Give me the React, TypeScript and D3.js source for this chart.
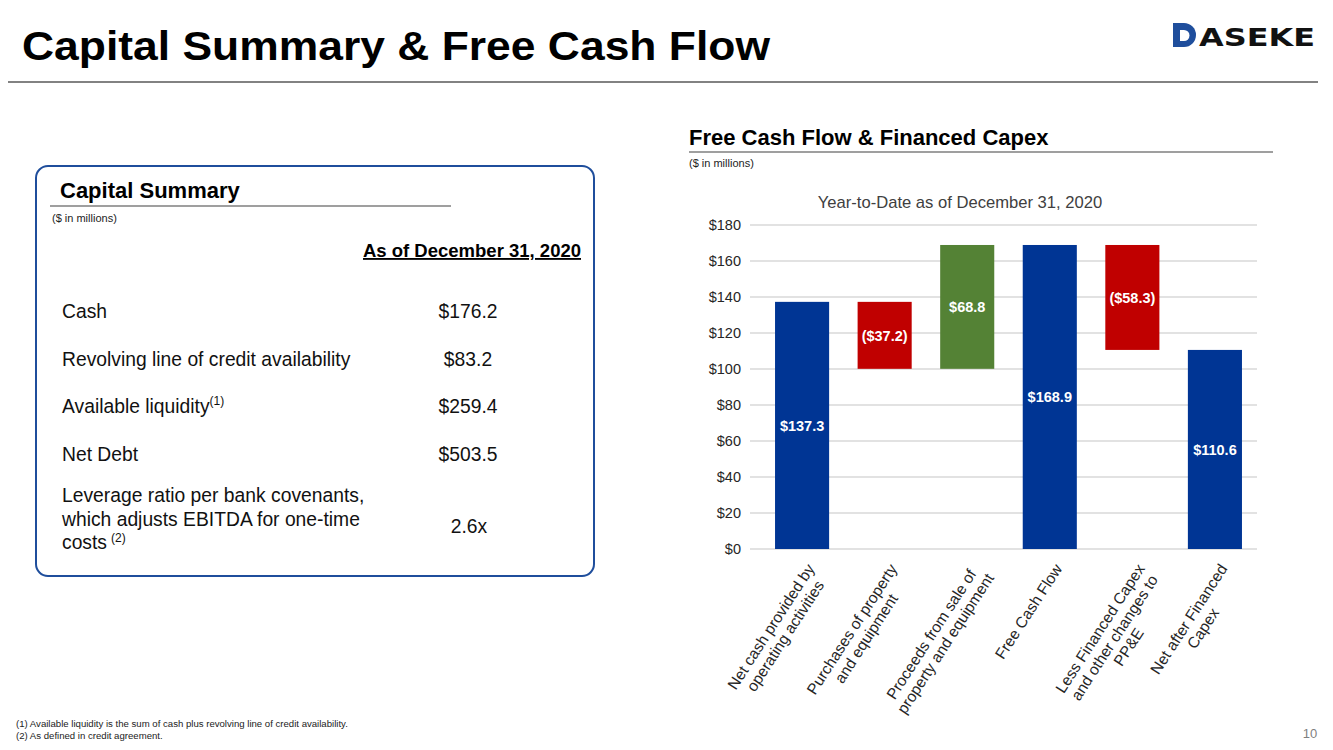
import { useEffect, useRef } from "react";
import * as d3 from "d3";

// waterfall chart data
const categories = [
  ["Net cash provided by", "operating activities"],
  ["Purchases of property", "and equipment"],
  ["Proceeds from sale of", "property and equipment"],
  ["Free Cash Flow"],
  ["Less Financed Capex", "and other changes to", "PP&E"],
  ["Net after Financed", "Capex"],
];
const stepValues = [137.3, -37.2, 68.8, 168.9, -58.3, 110.6];
const isTotal = [true, false, false, true, false, true];
const barLabels = ["$137.3", "($37.2)", "$68.8", "$168.9", "($58.3)", "$110.6"];
const yTicks = [0, 20, 40, 60, 80, 100, 120, 140, 160, 180];

// capital summary table
const summaryLabels = [
  ["Cash"],
  ["Revolving line of credit availability"],
  ["Available liquidity"],
  ["Net Debt"],
  ["Leverage ratio per bank covenants,", "which adjusts EBITDA for one-time", "costs"],
];
const summaryValues = ["$176.2", "$83.2", "$259.4", "$503.5", "2.6x"];
const summaryNotes = ["", "", "(1)", "", "(2)"];

const FONT = "'Liberation Sans', Arial, Helvetica, sans-serif";

function WaterfallChart() {
  const gRef = useRef<SVGGElement>(null);

  useEffect(() => {
    const g = d3.select(gRef.current);
    g.selectAll("*").remove();

    const left = 750, right = 1257, top = 225, bottom = 549;

    const x = d3.scaleBand<number>()
      .domain(categories.map((c, i) => i))
      .range([761, 1256])
      .paddingInner(0.345)
      .paddingOuter(0.17);

    const y = d3.scaleLinear().domain([0, 180]).range([bottom, top]);

    // running totals for waterfall
    let running = 0;
    const bars = stepValues.map((v, i) => {
      let start, end;
      if (isTotal[i]) { start = 0; end = v; }
      else { start = running; end = running + v; }
      running = end;
      const color = isTotal[i] ? "#003594" : v < 0 ? "#C00000" : "#548235";
      return { i, start, end, color, label: barLabels[i] };
    });

    // gridlines
    g.append("g")
      .selectAll("line")
      .data(yTicks)
      .join("line")
      .attr("x1", left)
      .attr("x2", right)
      .attr("y1", d => y(d))
      .attr("y2", d => y(d))
      .attr("stroke", "#d9d9d9")
      .attr("stroke-width", 1.3);

    // y labels
    g.append("g")
      .selectAll("text")
      .data(yTicks)
      .join("text")
      .attr("x", 741)
      .attr("y", d => y(d))
      .attr("dy", "0.36em")
      .attr("text-anchor", "end")
      .attr("font-size", 14.5)
      .attr("fill", "#262626")
      .text(d => `$${d}`);

    // bars
    g.append("g")
      .selectAll("rect")
      .data(bars)
      .join("rect")
      .attr("x", d => x(d.i)!)
      .attr("width", x.bandwidth())
      .attr("y", d => y(Math.max(d.start, d.end)))
      .attr("height", d => Math.abs(y(d.start) - y(d.end)))
      .attr("fill", d => d.color);

    // bar value labels
    g.append("g")
      .selectAll("text")
      .data(bars)
      .join("text")
      .attr("x", d => x(d.i)! + x.bandwidth() / 2)
      .attr("y", d => y((d.start + d.end) / 2))
      .attr("dy", "0.36em")
      .attr("text-anchor", "middle")
      .attr("font-size", 14.5)
      .attr("font-weight", "bold")
      .attr("fill", "#ffffff")
      .text(d => d.label);

    // rotated category labels, lines centered, block's top-right at the tick
    const lineH = 17;
    categories.forEach((lines, i) => {
      const lg = g.append("g")
        .attr("transform", `translate(${x(i)! + x.bandwidth() / 2 + 3},562) rotate(-57)`);
      const texts = lines.map((ln, k) =>
        lg.append("text")
          .attr("y", k * lineH + 12)
          .attr("text-anchor", "middle")
          .attr("font-size", 15.5)
          .attr("fill", "#262626")
          .text(ln)
      );
      const w = d3.max(texts, t => (t.node() as SVGTextElement).getComputedTextLength()) || 0;
      texts.forEach(t => t.attr("x", -w / 2));
    });

    g.append("text")
      .attr("x", 960)
      .attr("y", 208)
      .attr("text-anchor", "middle")
      .attr("font-size", 16.6)
      .attr("fill", "#404040")
      .text("Year-to-Date as of December 31, 2020");
  }, []);

  return <g ref={gRef} />;
}

export default function App() {
  const rowY = [318, 366, 413, 461];
  const fs = 19.3;
  return (
    <svg
      width={1333}
      height={750}
      style={{ position: "absolute", left: 0, top: 0, background: "#fff" }}
      fontFamily={FONT}
    >
      <rect width={1333} height={750} fill="#fff" />
      {/* slide title */}
      <text x={22} y={60} fontSize={40} fontWeight="bold" fill="#000" textLength={748} lengthAdjust="spacingAndGlyphs">
        Capital Summary &amp; Free Cash Flow
      </text>
      <line x1={8} x2={1318} y1={82} y2={82} stroke="#595959" strokeWidth={1.5} />

      {/* logo */}
      <g>
        <path d="M1173,23 H1184 A12,12 0 0 1 1184,47 H1173 Z" fill="#1f4e9c" />
        <path d="M1180,30 H1184 A5.5,5.5 0 0 1 1184,41 H1180 Z" fill="#ffffff" />
        <text x={1199} y={46} fontSize={24} fontWeight="bold" fill="#111" fontFamily="'DejaVu Sans', sans-serif" textLength={116} lengthAdjust="spacingAndGlyphs">ASEKE</text>
      </g>

      {/* capital summary box */}
      <rect x={36} y={166} width={558} height={410} rx={12} fill="none" stroke="#1f4e9c" strokeWidth={2} />
      <text x={60} y={198} fontSize={22} fontWeight="bold">Capital Summary</text>
      <line x1={50} x2={451} y1={206} y2={206} stroke="#404040" strokeWidth={1.2} />
      <text x={52} y={222} fontSize={11} fill="#222">($ in millions)</text>
      <text x={581} y={257} fontSize={18.5} fontWeight="bold" textAnchor="end" textDecoration="underline">
        As of December 31, 2020
      </text>
      {summaryLabels.slice(0, 4).map((lines, i) => (
        <g key={i}>
          <text x={62} y={rowY[i]} fontSize={fs} fill="#111">
            {lines[0]}
            {summaryNotes[i] && <tspan fontSize={12} dy={-8}>{summaryNotes[i]}</tspan>}
          </text>
          <text x={468} y={rowY[i]} fontSize={fs} textAnchor="middle" fill="#111">{summaryValues[i]}</text>
        </g>
      ))}
      <text x={62} y={502} fontSize={fs} fill="#111">{summaryLabels[4][0]}</text>
      <text x={62} y={526} fontSize={fs} fill="#111">{summaryLabels[4][1]}</text>
      <text x={62} y={549} fontSize={fs} fill="#111">
        {summaryLabels[4][2]}
        <tspan fontSize={12} dx={4} dy={-7}>{summaryNotes[4]}</tspan>
      </text>
      <text x={469} y={533} fontSize={fs} textAnchor="middle" fill="#111">{summaryValues[4]}</text>

      {/* right section header */}
      <text x={689} y={145} fontSize={22} fontWeight="bold">Free Cash Flow &amp; Financed Capex</text>
      <line x1={689} x2={1273} y1={152} y2={152} stroke="#404040" strokeWidth={1.2} />
      <text x={689} y={167} fontSize={11} fill="#222">($ in millions)</text>

      <WaterfallChart />

      {/* footnotes */}
      <text x={16} y={727} fontSize={9.6} fill="#222">(1) Available liquidity is the sum of cash plus revolving line of credit availability.</text>
      <text x={16} y={739} fontSize={9.6} fill="#222">(2) As defined in credit agreement.</text>
      <text x={1310} y={738} fontSize={13} fill="#7f7f7f" textAnchor="middle">10</text>
    </svg>
  );
}
